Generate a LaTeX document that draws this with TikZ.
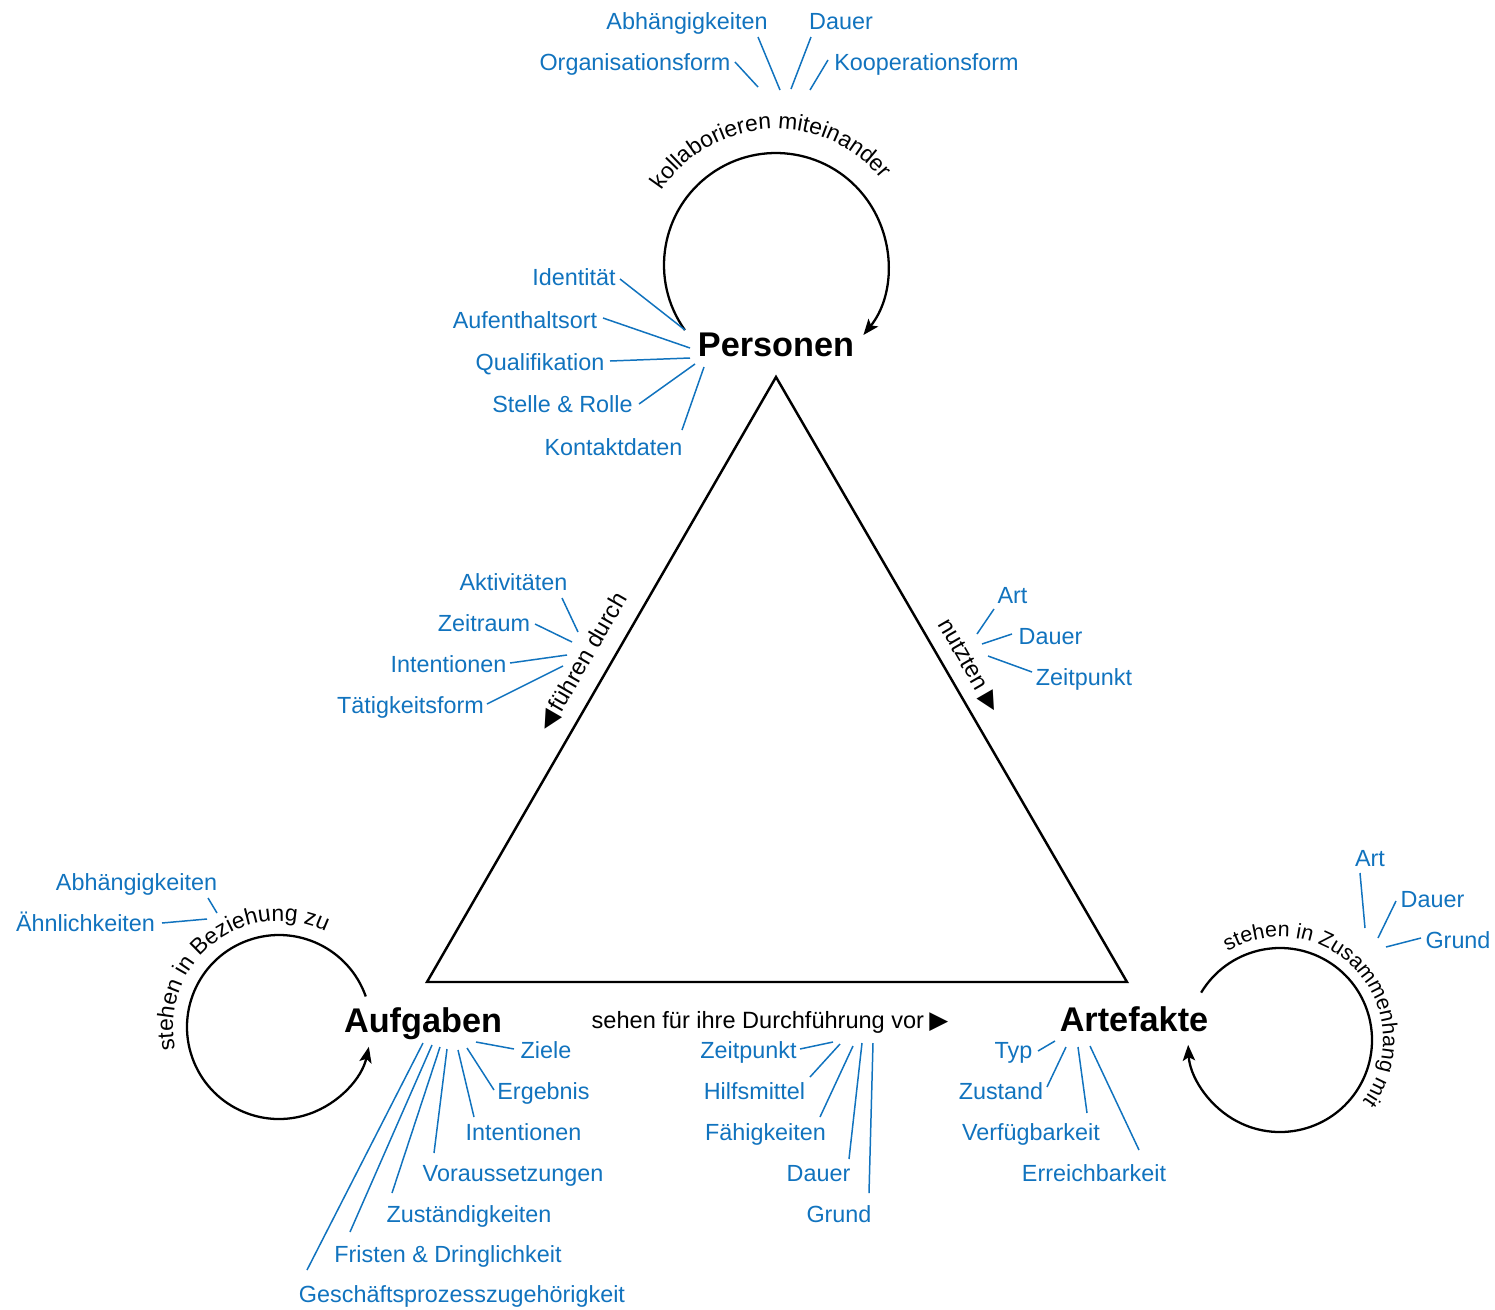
\documentclass[tikz,border=0pt]{standalone}
\usepackage{fontspec}
\setmainfont{Liberation Sans}
\newfontfamily\symfont{DejaVu Sans}
\usetikzlibrary{decorations.text,arrows.meta}
\definecolor{attrblue}{RGB}{17,115,190}
\newcommand\attrfont{\fontsize{13.3}{16}\selectfont}
\newcommand\relfont{\fontsize{13.4}{16}\selectfont}
\newcommand\arcfont{\fontsize{13}{16}\selectfont}
\newcommand\arcfontsmall{\fontsize{12.2}{15}\selectfont}
\newcommand\entfont{\fontsize{19.5}{23}\selectfont\bfseries}
\newcommand\tri[1]{{\symfont\fontsize{14}{16}\selectfont #1}}
% attribute label with its connector: name, text, base point, outer end, inner end
\newcommand\attr[5]{%
  \node[attr] (#1) at (#3) {#2};
  \coordinate (#1a) at (#4);
  \coordinate (#1b) at (#5);
  \draw[attrline] (#1a) -- (#1b);}
\begin{document}
\begin{tikzpicture}[x=0.02cm,y=-0.02cm,
  attr/.style={font=\attrfont, text=attrblue, inner sep=0pt, anchor=base},
  attrline/.style={draw=attrblue, line width=0.85pt},
  entity/.style={font=\entfont, inner sep=0pt, anchor=base},
  rel/.style={font=\relfont, inner sep=0pt},
  selfloop/.style={line width=1.3pt, -{Stealth[length=9pt,width=7pt,inset=2pt]}},
  trianglestyle/.style={line width=1.4pt, line join=miter},
  arctext/.style={decorate, decoration={text along path, text align=center, text={|\arcfont|#1}}},
  arctextsmall/.style={decorate, decoration={text along path, text align=center, text={|\arcfontsmall|#1}}}
]
\useasboundingbox (0,0) rectangle (1495,1309);

% central triangle
\coordinate (tP) at (776,377);
\coordinate (tA) at (427,982);
\coordinate (tR) at (1127,982);
\draw[trianglestyle] (tP) -- (tA) -- (tR) -- cycle;

% entities
\node[entity] (pers) at (776,356) {Personen};
\node[entity] (aufg) at (423,1032) {Aufgaben};
\node[entity] (arte) at (1134,1031) {Artefakte};

% self relations
\coordinate (cP) at (776,265);
\coordinate (cA) at (279,1027);
\coordinate (cR) at (1280,1040);
\draw[selfloop] ([shift={(cP)}]144.5:112) arc[start angle=144.5, end angle=398.7, radius=112];
\draw[selfloop] ([shift={(cA)}]340.6:92) arc[start angle=340.6, end angle=12.4, radius=92];
\draw[selfloop] ([shift={(cR)}]211:92) arc[start angle=211, end angle=537, radius=92];

\path[arctext={kollaborieren miteinander}] ([shift={(cP)}]187:136) arc[start angle=187, end angle=347, radius=136];
\path[arctext={stehen in Beziehung zu}] ([shift={(cA)}]147:106) arc[start angle=147, end angle=317, radius=106];
\path[arctextsmall={stehen in Zusammenhang mit}] ([shift={(cR)}]213:103) arc[start angle=213, end angle=423, radius=103];

% relations along the triangle
\node[rel, rotate=60] (rFD) at (583,662) {\tri{◀}\hspace{2pt}führen durch};
\node[rel, rotate=-60] (rNu) at (969,666) {nutzten\hspace{4pt}\tri{▶}};
\node[rel, anchor=base] (rSe) at (770,1028) {sehen für ihre Durchführung vor\hspace{3pt}\tri{▶}};

% collaboration attributes
\attr{kOrg}{Organisationsform}{635,70}{735,62}{758,87}
\attr{kAbh}{Abhängigkeiten}{687,29}{758,37}{780,90}
\attr{kDau}{Dauer}{841,29}{811,37}{791,89}
\attr{kKoo}{Kooperationsform}{926.5,70}{828,60}{810,90}

% person attributes
\attr{pId}{Identität}{574,285}{620,279}{685,330}
\attr{pAuf}{Aufenthaltsort}{525,328}{603,318}{690,348}
\attr{pQua}{Qualifikation}{540,370}{610,361}{690,358}
\attr{pSte}{Stelle \& Rolle}{562.5,412}{639,404}{695,364}
\attr{pKon}{Kontaktdaten}{613.5,455}{682,430}{704,367}

% "führen durch" attributes
\attr{fAkt}{Aktivitäten}{513.5,590}{562,598}{578,632}
\attr{fZei}{Zeitraum}{484,631}{535,624}{572,642}
\attr{fInt}{Intentionen}{448.5,672}{510,663}{567,655}
\attr{fTae}{Tätigkeitsform}{410.5,713}{487,704}{563,666}

% "nutzten" attributes
\attr{nArt}{Art}{1012.5,603}{994,609}{977,634}
\attr{nDau}{Dauer}{1050.5,644}{1012,634}{982,644}
\attr{nZei}{Zeitpunkt}{1084,685}{1032,672}{988,656}

% task-to-task attributes
\attr{bAbh}{Abhängigkeiten}{136.5,890}{208,898}{217,913}
\attr{bAeh}{Ähnlichkeiten}{85.5,931}{162,923}{207,919}

% artefact-to-artefact attributes
\attr{zArt}{Art}{1370,866}{1360,873}{1365,928}
\attr{zDau}{Dauer}{1432.5,907}{1396,901}{1378,938}
\attr{zGru}{Grund}{1458,948}{1421,938}{1386,947}

% task attributes
\attr{aZie}{Ziele}{546,1058}{514,1049}{476,1042}
\attr{aErg}{Ergebnis}{543.5,1099}{494,1090}{467,1048}
\attr{aInt}{Intentionen}{523.5,1140}{474,1117}{458,1050}
\attr{aVor}{Voraussetzungen}{513,1181}{434,1153}{447,1049}
\attr{aZus}{Zuständigkeiten}{469,1222}{392,1193}{440,1047}
\attr{aFri}{Fristen \& Dringlichkeit}{448,1262}{350,1232}{432,1045}
\attr{aGes}{Geschäftsprozesszugehörigkeit}{462,1302}{307,1270}{423,1043}

% "sehen für ihre Durchführung vor" attributes
\attr{sZei}{Zeitpunkt}{748.5,1058}{800,1049}{833,1042}
\attr{sHil}{Hilfsmittel}{754.5,1099}{810,1077}{840,1044}
\attr{sFae}{Fähigkeiten}{765.5,1140}{820,1117}{853,1046}
\attr{sDau}{Dauer}{818.5,1181}{849,1159}{862,1043}
\attr{sGru}{Grund}{839,1222}{869,1193}{873,1043}

% artefact attributes
\attr{rTyp}{Typ}{1013.5,1058}{1038,1051}{1055,1041}
\attr{rZus}{Zustand}{1001,1099}{1047,1087}{1066,1047}
\attr{rVer}{Verfügbarkeit}{1031,1140}{1087,1113}{1078,1047}
\attr{rErr}{Erreichbarkeit}{1094,1181}{1139,1150}{1090,1046}
\end{tikzpicture}
\end{document}
